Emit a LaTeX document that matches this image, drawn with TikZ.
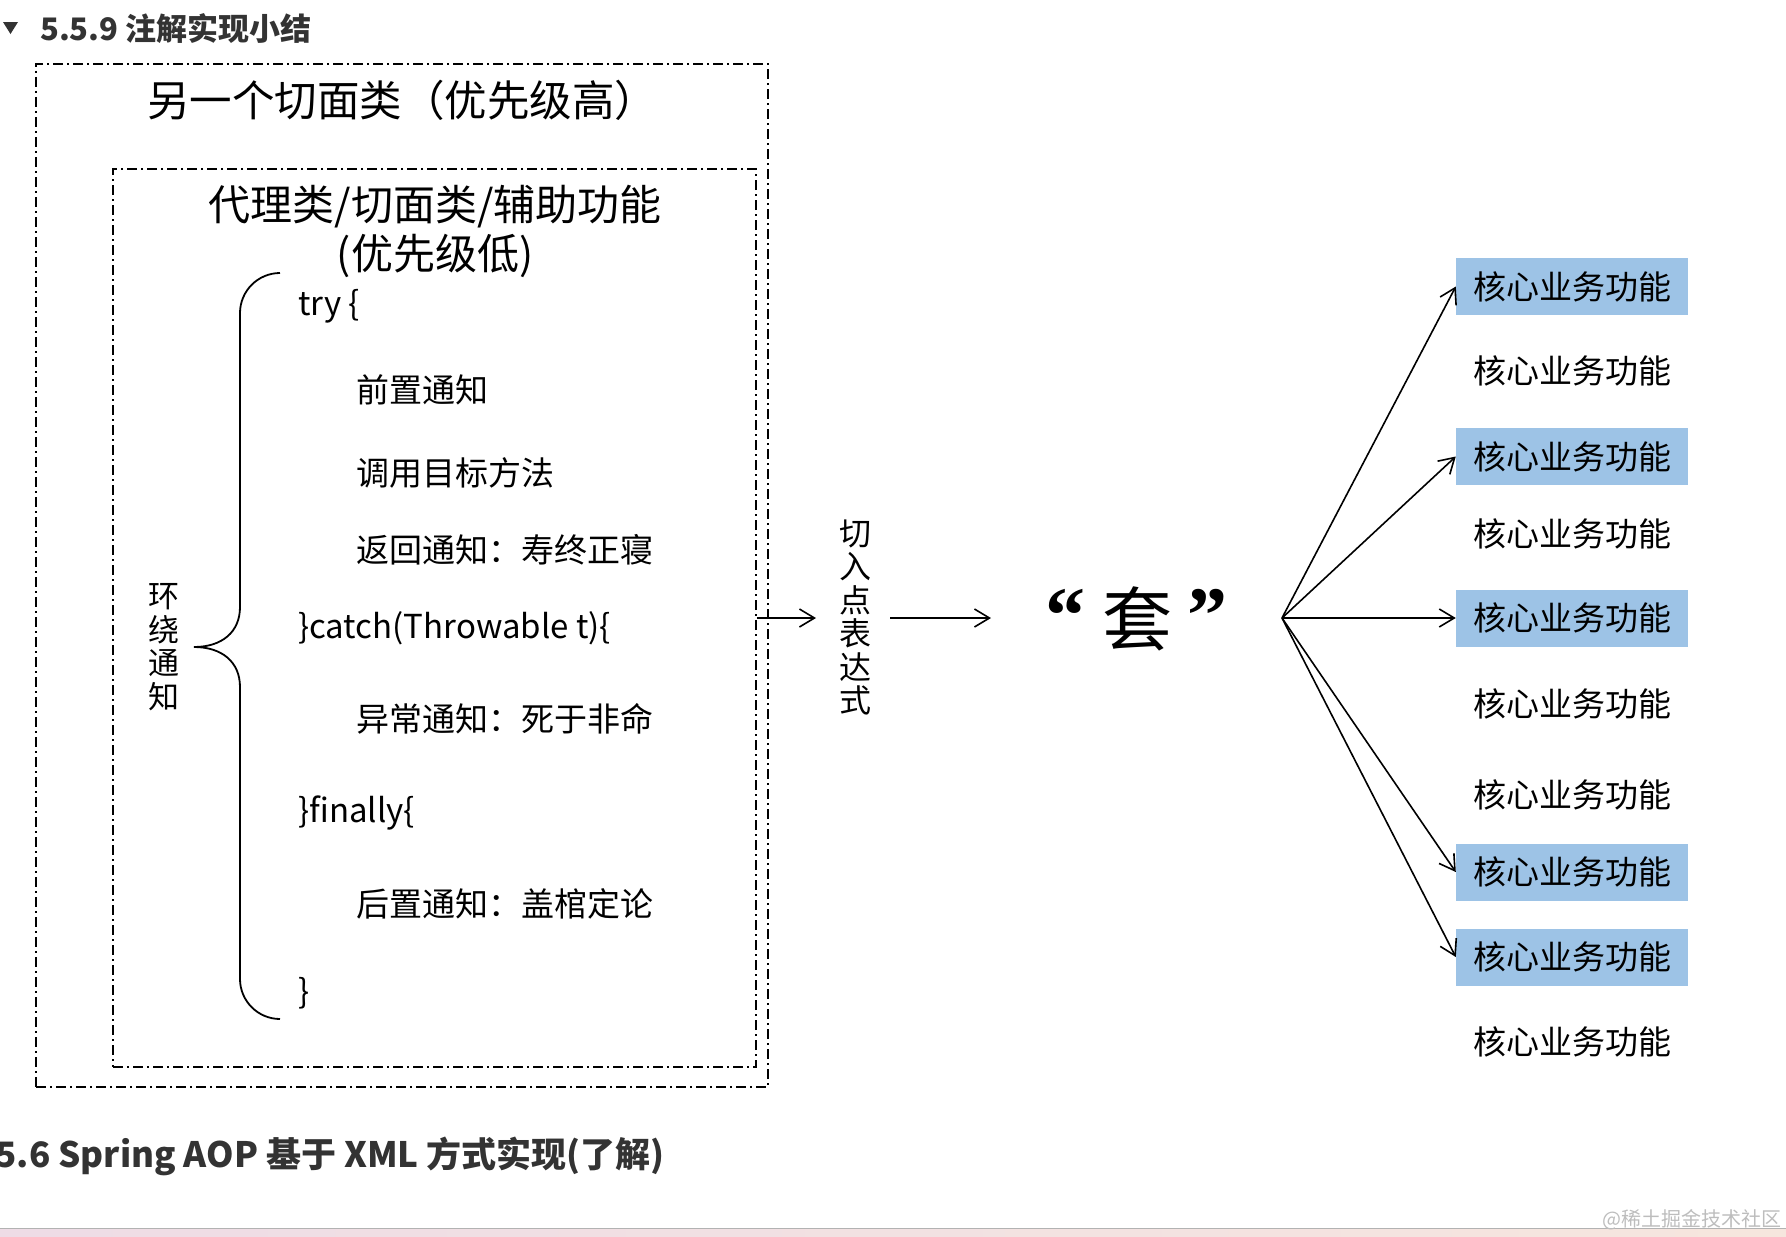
\documentclass[tikz,border=0pt]{standalone}
\usepackage{fontspec}
\setmainfont{Noto Sans CJK SC}
\newfontfamily\qfont{Liberation Serif}
\usetikzlibrary{arrows.meta}
\definecolor{hd}{HTML}{333333}
\definecolor{bx}{HTML}{9DC3E6}
\definecolor{wm}{HTML}{BDBDBD}
\definecolor{pinkL}{HTML}{EEDCE6}
\definecolor{peach}{HTML}{F6E6DE}
\newcommand\fsz[2]{\fontsize{#1}{#2}\selectfont}
\tikzset{
  ddbox/.style={draw, line width=1.8pt, dash pattern=on 10pt off 4pt on 2pt off 4pt, inner sep=0pt},
  code/.style={anchor=base west, inner sep=0pt, font=\fsz{33}{40}},
  core/.style={minimum width=232pt, minimum height=57pt, inner sep=0pt, font=\fsz{33}{40}},
  hl/.style={core, fill=bx},
  arr/.style={line width=1.6pt, -{Straight Barb[length=15pt,width=18pt]}},
  heading/.style={inner sep=0pt, text=hd, font=\bfseries\fsz{31}{38}},
}
\begin{document}
\begin{tikzpicture}[x=1pt,y=-1pt]
\useasboundingbox (0,0) rectangle (1786,1237);
\clip (0,0) rectangle (1786,1237);

% headings
\fill[hd] (3,22) -- (18,22) -- (10.5,34) -- cycle;
\node[heading, anchor=base west] (h1) at (40,40) {5.5.9 注解实现小结};
\node[heading, anchor=base east, font=\bfseries\fsz{35}{40}] (h2) at (665,1167) {5.6 Spring AOP 基于 XML 方式实现(了解)};

% boxes
\node[ddbox, minimum width=732pt, minimum height=1023pt] (outer) at (402,575.5) {};
\node[ddbox, minimum width=643pt, minimum height=898pt] (inner) at (434.5,618) {};
\node[inner sep=0pt, font=\fsz{42.5}{48}] (otl) at (402,100) {另一个切面类（优先级高）};
\node[inner sep=0pt, align=center, font=\fsz{42}{49}] (itl) at (435,231) {代理类/切面类/辅助功能\\(优先级低)};

% brace
\draw[line width=1.8pt] (280,273) .. controls (258,273) and (240,291) .. (240,313) -- (240,607)
  .. controls (240,632) and (222,647) .. (194,647)
  .. controls (222,647) and (240,662) .. (240,687) -- (240,979)
  .. controls (240,1001) and (258,1019) .. (280,1019);
\node[inner sep=0pt, align=center, font=\fsz{31}{33.5}] (hr) at (164,647) {环\\绕\\通\\知};

% code lines
\node[code] (l1) at (298,315) {try \{};
\node[code] (l2) at (356,402) {前置通知};
\node[code] (l3) at (356,485) {调用目标方法};
\node[code] (l4) at (356,562) {返回通知：寿终正寝};
\node[code] (l5) at (298,638) {\}catch(Throwable t)\{};
\node[code] (l6) at (356,731) {异常通知：死于非命};
\node[code] (l7) at (298,822) {\}finally\{};
\node[code] (l8) at (356,916) {后置通知：盖棺定论};
\node[code] (l9) at (298,1003) {\}};

% pointcut
\coordinate (a1e) at (816,618);
\draw[arr] (inner.east) -- (a1e);
\node[inner sep=0pt, align=center, font=\fsz{32}{33.5}] (cut) at (855,617.5) {切\\入\\点\\表\\达\\式};
\coordinate (a2s) at (890,618);
\coordinate (a2e) at (991,618);
\draw[arr] (a2s) -- (a2e);

% tao
\node[inner sep=0pt, anchor=base, font=\qfont\bfseries\fsz{80}{90}] (q1) at (1065,642) {“};
\node[inner sep=0pt, font=\fsz{70}{80}] (tao) at (1137,619) {套};
\node[inner sep=0pt, anchor=base, font=\qfont\bfseries\fsz{80}{90}] (q2) at (1207,642) {”};

% core functions
\node[hl]   (c1)  at (1572,286.5) {核心业务功能};
\node[core] (c2)  at (1572,371)   {核心业务功能};
\node[hl]   (c3)  at (1572,456.5) {核心业务功能};
\node[core] (c4)  at (1572,534)   {核心业务功能};
\node[hl]   (c5)  at (1572,618)   {核心业务功能};
\node[core] (c6)  at (1572,704)   {核心业务功能};
\node[core] (c7)  at (1572,795)   {核心业务功能};
\node[hl]   (c8)  at (1572,872)   {核心业务功能};
\node[hl]   (c9)  at (1572,957)   {核心业务功能};
\node[core] (c10) at (1572,1042)  {核心业务功能};

\coordinate (fan) at (1282,618);
\foreach \t in {c1,c3,c5,c8,c9} \draw[arr] (fan) -- (\t.west);

% bottom strip and watermark
\shade[left color=pinkL, right color=peach] (0,1229) rectangle (1786,1237);
\draw[line width=1pt, black!30] (0,1228.5) -- (1786,1228.5);
\node[inner sep=0pt, anchor=east, text=wm, font=\fsz{20}{24}] (wmk) at (1782,1220) {@稀土掘金技术社区};
\end{tikzpicture}
\end{document}
